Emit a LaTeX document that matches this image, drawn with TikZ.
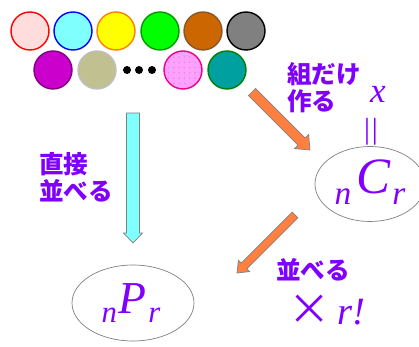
\documentclass[tikz,border=0pt]{standalone}
\usepackage{fontspec}
\newfontfamily\jp{Noto Sans CJK JP}
\newfontfamily\tms{Liberation Serif}
\usepackage{tikz}
\usetikzlibrary{calc,shapes.geometric,patterns}
\definecolor{txtviolet}{HTML}{8000FF}
\definecolor{arrcyan}{HTML}{80FFFF}
\definecolor{arrorange}{HTML}{FF8040}
\definecolor{ballA}{HTML}{FFDDDD}
\definecolor{ballB}{HTML}{80FFFF}
\definecolor{ballC}{HTML}{FFFF00}
\definecolor{ballD}{HTML}{00FF00}
\definecolor{ballE}{HTML}{CC6600}
\definecolor{ballF}{HTML}{808080}
\definecolor{ballG}{HTML}{CC00CC}
\definecolor{ballH}{HTML}{C0C090}
\definecolor{ballI}{HTML}{FFA0FF}
\definecolor{ballJ}{HTML}{00A0A0}
% fat arrow: from, to, fill, shaft half width, head half width, head length
\newcommand{\fatarrow}[6]{%
  \coordinate (fa-b) at ($(#2)!#6!(#1)$);
  \draw[gray,fill=#3,line join=miter]
    ($(#1)!#4!90:(#2)$) -- ($(fa-b)!#4!90:(#2)$) -- ($(fa-b)!#5!90:(#2)$)
    -- (#2) -- ($(fa-b)!#5!-90:(#2)$) -- ($(fa-b)!#4!-90:(#2)$)
    -- ($(#1)!#4!-90:(#2)$) -- cycle;}

\begin{document}
\begin{tikzpicture}[x=0.02cm,y=-0.02cm,
  ball/.style={circle,minimum size=0.76cm,inner sep=0pt,line width=0.8pt},
  jptext/.style={text=txtviolet,font=\jp\bfseries\fontsize{14}{15.5}\selectfont,align=left,inner sep=0pt}]
\useasboundingbox (0,0) rectangle (419,347);

% colour balls
\foreach \x/\fc/\bc [count=\i] in {30/ballA/red,73/ballB/blue,116/ballC/orange,160/ballD/green!60!black,203/ballE/brown!70!black,246/ballF/black}
  \node[ball,fill=\fc,draw=\bc] (top\i) at (\x,31) {};
\foreach \x/\fc/\bc [count=\i] in {53/ballG/violet,97/ballH/lightgray,183/ballI/magenta,227/ballJ/green!50!black}
  \node[ball,fill=\fc,draw=\bc] (low\i) at (\x,70) {};
\path[pattern=dots,pattern color=violet!40] (low3) circle[radius=0.36cm];
\foreach \x in {127,139,152}
  \fill (\x,70) circle[radius=0.08cm];

% results
\node[ellipse,draw=gray,minimum width=2.44cm,minimum height=1.52cm,inner sep=0pt] (nPr) at (133,303) {};
\node[ellipse,draw=gray,minimum width=2.2cm,minimum height=1.5cm,inner sep=0pt] (nCr) at (370,184) {};
\node[text=txtviolet,inner sep=0pt] (Pt) at ($(nPr)+(-2,0)$) {\tms\itshape
  \raisebox{-5pt}{\fontsize{17.5}{18}\selectfont n}\hspace{1pt}{\fontsize{26}{26}\selectfont P}\hspace{1pt}\raisebox{-5pt}{\fontsize{17.5}{18}\selectfont r}};
\node[text=txtviolet,inner sep=0pt] (Ct) at ($(nCr)+(0,-2)$) {\tms\itshape
  \raisebox{-6pt}{\fontsize{19}{19}\selectfont n}\hspace{3pt}{\fontsize{29}{29}\selectfont C}\hspace{1pt}\raisebox{-6pt}{\fontsize{19}{19}\selectfont r}};
\node[text=txtviolet,inner sep=0pt,font=\tms\itshape\fontsize{20}{20}\selectfont] (xv) at (378,94) {x};
\node[text=txtviolet,inner sep=0pt,rotate=90,font=\fontsize{32}{32}\selectfont] (eq) at (374,132) {$=$};

% arrows
\coordinate (dtop) at (133,113);
\coordinate (dtip) at (133,243);
\fatarrow{dtop}{dtip}{arrcyan}{0.13cm}{0.19cm}{0.2cm}
\coordinate (ctop) at (252,92);
\coordinate (ctip) at (310,150);
\fatarrow{ctop}{ctip}{arrorange}{0.1cm}{0.2cm}{0.24cm}
\coordinate (ptop) at (295,215);
\coordinate (ptip) at (237,273);
\fatarrow{ptop}{ptip}{arrorange}{0.08cm}{0.16cm}{0.2cm}

% labels
\node[jptext,anchor=west] (direct) at (39,177) {直接\\並べる};
\node[jptext,anchor=west] (kumi) at (287,88) {組だけ\\作る};
\node[jptext,anchor=west] (narabe) at (276,270) {並べる};
\node[text=txtviolet,inner sep=0pt] (times) at (327,310) {{\jp\fontsize{24}{24}\selectfont ×}\hspace{4pt}{\tms\itshape\fontsize{22}{22}\selectfont r!}};
\end{tikzpicture}
\end{document}
